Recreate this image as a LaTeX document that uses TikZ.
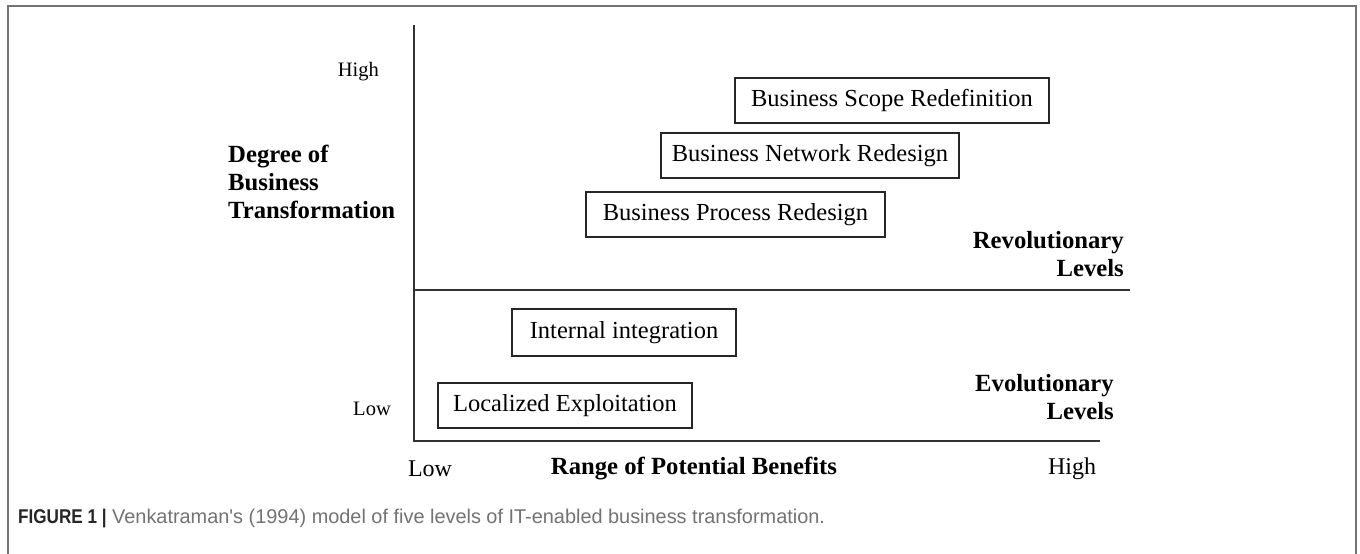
\documentclass[tikz,border=0pt]{standalone}
\usepackage{fontspec}
\setmainfont{Liberation Serif}
\newfontfamily\capfont{Liberation Sans}
\newfontfamily\capboldfont[FakeStretch=0.86]{Liberation Sans Bold}
\begin{document}
\begin{tikzpicture}[x=1pt,y=-1pt,
  levelbox/.style={draw=black!85,line width=1.4pt,inner sep=0pt,
    font=\fontsize{24.5}{28}\selectfont},
  axislab/.style={inner sep=0pt,font=\fontsize{20.5}{24}\selectfont},
  xaxislab/.style={inner sep=0pt,font=\fontsize{24}{28}\selectfont},
  boldlab/.style={inner sep=0pt,font=\fontsize{24.7}{28}\selectfont\bfseries},
  axisline/.style={draw=black!80,line width=2pt}]
\useasboundingbox (0,0) rectangle (1360,554);
\fill[white] (0,0) rectangle (1360,554);
% frame
\draw[black!55,line width=1.6pt] (8,560) -- (8,6) -- (1356,6) -- (1356,560);
% axes
\coordinate (ytop) at (414,25);
\coordinate (orig) at (414,441);
\coordinate (xend) at (1100,441);
\coordinate (midl) at (414,290);
\coordinate (midr) at (1130,290);
\draw[axisline] (ytop) -- (orig) -- (xend);
\draw[axisline] (midl) -- (midr);
% boxes
\node[levelbox,minimum width=314pt,minimum height=45pt] (bsr) at (892,100.5) {Business Scope Redefinition};
\node[levelbox,minimum width=298pt,minimum height=45pt] (bnr) at (810,155.5) {Business Network Redesign};
\node[levelbox,minimum width=299pt,minimum height=45pt] (bpr) at (735.5,214.5) {Business Process Redesign};
\node[levelbox,minimum width=224pt,minimum height=47pt] (ii) at (624,332.5) {Internal integration};
\node[levelbox,minimum width=254pt,minimum height=45pt] (le) at (565,405.5) {Localized Exploitation};
% labels
\node[axislab,anchor=east] (yhigh) at (379,72) {High};
\node[axislab,anchor=east] (ylow) at (391,409) {Low};
\node[boldlab,anchor=west,align=left] (ytitle) at (228,182) {Degree of\\Business\\Transformation};
\node[boldlab,anchor=east,align=right] (rev) at (1124,254) {Revolutionary\\Levels};
\node[boldlab,anchor=east,align=right] (evo) at (1114,397) {Evolutionary\\Levels};
\node[xaxislab] (xlow) at (430,469) {Low};
\node[boldlab] (xtitle) at (694,469) {Range of Potential Benefits};
\node[xaxislab] (xhigh) at (1072,469) {High};
% caption
\node[inner sep=0pt,anchor=west,font=\capfont\fontsize{19.9}{22}\selectfont] (cap) at (18,518)
  {\textcolor{black!85}{\capboldfont FIGURE 1 |} \textcolor{black!55}{Venkatraman's (1994) model of five levels of IT-enabled business transformation.}};
\end{tikzpicture}
\end{document}
